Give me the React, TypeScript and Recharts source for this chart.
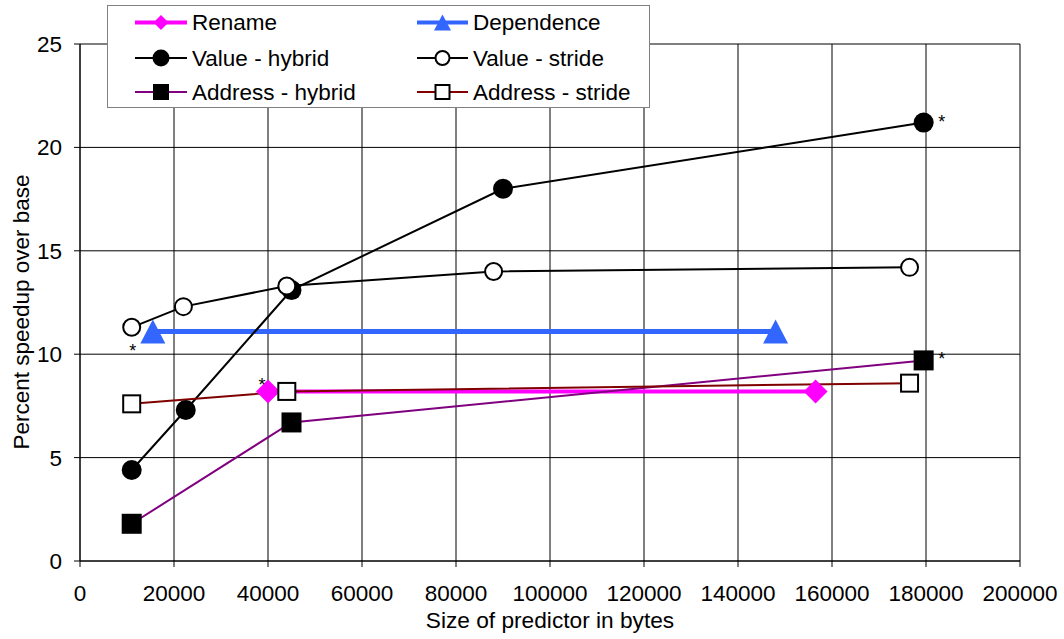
import { LineChart, Line, XAxis, YAxis, CartesianGrid, ReferenceDot } from "recharts";

const xTicks = [0, 20000, 40000, 60000, 80000, 100000, 120000, 140000, 160000, 180000, 200000];
const yTicks = [0, 5, 10, 15, 20, 25];

const renameData = [
  { size: 40000, speedup: 8.2 },
  { size: 156500, speedup: 8.2 },
];
const dependenceData = [
  { size: 15500, speedup: 11.1 },
  { size: 148000, speedup: 11.1 },
];
const valueHybridData = [
  { size: 11000, speedup: 4.4 },
  { size: 22500, speedup: 7.3 },
  { size: 45000, speedup: 13.1 },
  { size: 90000, speedup: 18.0 },
  { size: 179500, speedup: 21.2 },
];
const valueStrideData = [
  { size: 11000, speedup: 11.3 },
  { size: 22000, speedup: 12.3 },
  { size: 44000, speedup: 13.3 },
  { size: 88000, speedup: 14.0 },
  { size: 176500, speedup: 14.2 },
];
const addressHybridData = [
  { size: 11000, speedup: 1.8 },
  { size: 45000, speedup: 6.7 },
  { size: 179500, speedup: 9.7 },
];
const addressStrideData = [
  { size: 11000, speedup: 7.6 },
  { size: 44000, speedup: 8.2 },
  { size: 176500, speedup: 8.6 },
];

// points marked with an asterisk in the original figure
const starNotes = [
  { size: 11000, speedup: 11.3, side: "below" },
  { size: 40000, speedup: 8.2, side: "left" },
  { size: 179500, speedup: 21.2, side: "right" },
  { size: 179500, speedup: 9.7, side: "right" },
];
const starOffsets: Record<string, [number, number]> = {
  below: [1, 30],
  left: [-6, 0],
  right: [18, 5],
};

type Kind = "diamond" | "triangle" | "circle" | "square";

const series = [
  { name: "Rename", data: renameData, color: "#FF00FF", width: 4, kind: "diamond" as Kind, size: 24, fill: "#FF00FF", stroke: "none", legendSize: 15 },
  { name: "Dependence", data: dependenceData, color: "#3366FF", width: 5, kind: "triangle" as Kind, size: 24, fill: "#3366FF", stroke: "none", legendSize: 16 },
  { name: "Value - hybrid", data: valueHybridData, color: "#000000", width: 2, kind: "circle" as Kind, size: 20, fill: "#000000", stroke: "none", legendSize: 17 },
  { name: "Value - stride", data: valueStrideData, color: "#000000", width: 2, kind: "circle" as Kind, size: 17, fill: "#FFFFFF", stroke: "#000000", legendSize: 14 },
  { name: "Address - hybrid", data: addressHybridData, color: "#800080", width: 2, kind: "square" as Kind, size: 20, fill: "#000000", stroke: "none", legendSize: 16 },
  { name: "Address - stride", data: addressStrideData, color: "#800000", width: 2, kind: "square" as Kind, size: 17, fill: "#FFFFFF", stroke: "#000000", legendSize: 14 },
];

const FONT = "'Liberation Sans', Arial, sans-serif";

function Marker({ kind, cx, cy, size, fill, stroke }: any) {
  const h = size / 2;
  const sw = stroke === "none" ? 0 : 2;
  if (kind === "diamond")
    return <polygon points={`${cx},${cy - h} ${cx + h},${cy} ${cx},${cy + h} ${cx - h},${cy}`} fill={fill} />;
  if (kind === "triangle")
    return <polygon points={`${cx},${cy - h} ${cx + h + 0.5},${cy + h} ${cx - h - 0.5},${cy + h}`} fill={fill} />;
  if (kind === "circle") return <circle cx={cx} cy={cy} r={h} fill={fill} stroke={stroke} strokeWidth={sw} />;
  return <rect x={cx - h} y={cy - h} width={size} height={size} fill={fill} stroke={stroke} strokeWidth={sw} />;
}

function LegendBox() {
  const rows = [17.5, 53, 87];
  const cols = [
    { x1: 28, x2: 80, tx: 85 },
    { x1: 310, x2: 361, tx: 366 },
  ];
  return (
    <div
      style={{
        position: "absolute",
        left: 107,
        top: 5,
        width: 543,
        height: 103,
        border: "1px solid #808080",
        background: "#fff",
        boxSizing: "border-box",
      }}
    >
      <svg width={543} height={103} style={{ position: "absolute", left: -1, top: -1 }}>
        {series.map((s, i) => {
          const c = cols[i % 2];
          const y = rows[Math.floor(i / 2)];
          const mid = (c.x1 + c.x2) / 2;
          return (
            <g key={s.name}>
              <line x1={c.x1} x2={c.x2} y1={y} y2={y} stroke={s.color} strokeWidth={s.width === 2 ? 2 : 4} />
              <Marker kind={s.kind} cx={mid} cy={y} size={s.legendSize} fill={s.fill} stroke={s.stroke} />
              <text x={c.tx} y={y} dominantBaseline="central" fontSize={22.5} fontFamily={FONT} fill="#000">
                {s.name}
              </text>
            </g>
          );
        })}
      </svg>
    </div>
  );
}

function YTitle() {
  return (
    <text
      x={29}
      y={312}
      transform="rotate(-90 29 312)"
      textAnchor="middle"
      fontSize={22.5}
      fontFamily={FONT}
      fill="#000"
    >
      Percent speedup over base
    </text>
  );
}

function Star({ cx, cy, side }: any) {
  const [dx, dy] = starOffsets[side];
  return (
    <text x={cx + dx} y={cy + dy} textAnchor="middle" fontSize={18} fontFamily={FONT} fill="#000">
      *
    </text>
  );
}

export default function App() {
  return (
    <div style={{ position: "absolute", left: 0, top: 0, width: 1064, height: 639, background: "#fff", fontFamily: FONT }}>
      <LineChart width={1064} height={639} margin={{ top: 44, right: 44, bottom: 0, left: 0 }}>
        <CartesianGrid stroke="#000" strokeWidth={1} />
        <XAxis
          type="number"
          dataKey="size"
          domain={[0, 200000]}
          ticks={xTicks}
          allowDataOverflow
          height={78}
          tickSize={6}
          tickMargin={18}
          stroke="#000"
          tick={{ fill: "#000", fontSize: 22.5, fontFamily: FONT }}
          label={{ value: "Size of predictor in bytes", position: "insideBottom", offset: 11, fill: "#000", fontSize: 22.7, fontFamily: FONT }}
        />
        <YAxis
          type="number"
          domain={[0, 25]}
          ticks={yTicks}
          width={80}
          tickSize={6}
          tickMargin={12}
          stroke="#000"
          tick={{ fill: "#000", fontSize: 22.5, fontFamily: FONT }}
          label={<YTitle />}
        />
        {series.map((s) => (
          <Line
            key={s.name}
            name={s.name}
            data={s.data}
            dataKey="speedup"
            type="linear"
            stroke={s.color}
            strokeWidth={s.width}
            isAnimationActive={false}
            activeDot={false}
            dot={(p: any) => (
              <g key={`${s.name}-${p.index}`}>
                <Marker kind={s.kind} cx={p.cx} cy={p.cy} size={s.size} fill={s.fill} stroke={s.stroke} />
              </g>
            )}
          />
        ))}
        {starNotes.map((n, i) => (
          <ReferenceDot
            key={i}
            x={n.size}
            y={n.speedup}
            r={0}
            shape={(p: any) => <Star cx={p.cx} cy={p.cy} side={n.side} />}
          />
        ))}
      </LineChart>
      <LegendBox />
    </div>
  );
}
